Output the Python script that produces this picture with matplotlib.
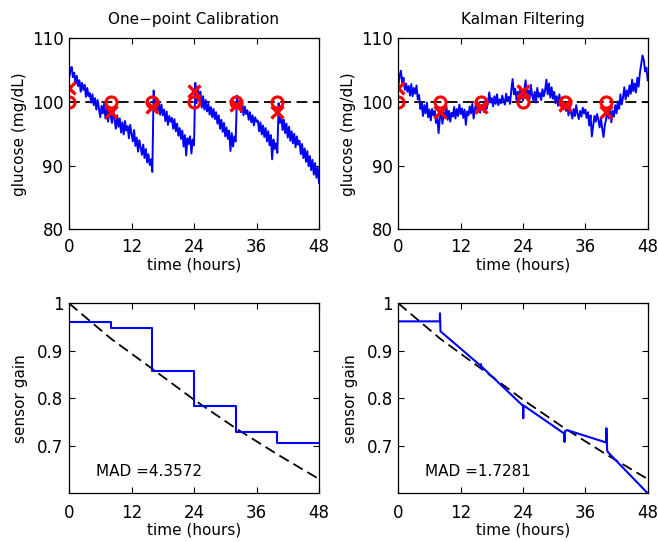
import numpy as np
import matplotlib
matplotlib.use("Agg")
import matplotlib.pyplot as plt

# ---------------- data ----------------
time_step_hours = 0.25
glucose_onepoint = [
    103.6, 104.8, 105.5, 103.9, 104.6, 102.8, 104.1, 102.5, 103.4, 101.6, 103.0, 101.9, 102.7, 100.8, 102.2, 100.9, 101.4,
    99.9, 101.2, 99.5, 100.6, 98.8, 100.3, 99.0, 97.6, 99.4, 98.2, 99.8, 97.4, 98.9, 96.9, 98.6, 97.8,
    96.7, 98.9, 97.2, 95.8, 97.9, 96.1, 97.4, 95.2, 96.8, 94.9, 97.0, 95.5, 96.2, 94.3, 96.4, 95.0,
    93.8, 95.6, 93.1, 94.4, 92.2, 94.0, 92.8, 91.7, 93.3, 91.2, 92.6, 90.5, 91.8, 90.1, 91.0, 89.0,
    101.8, 99.2, 100.6, 98.7, 100.1, 98.0, 99.6, 97.9, 98.8, 97.0, 98.5, 96.4, 97.8, 96.9, 97.5, 95.8,
    97.3, 95.4, 96.6, 94.7, 95.9, 94.2, 95.5, 93.0, 94.8, 91.6, 94.3, 93.4, 94.6, 91.9, 94.1, 93.2,
    103.0, 99.8, 102.4, 100.2, 101.6, 99.1, 100.9, 98.8, 100.3, 98.5, 99.7, 98.0, 99.2, 97.6, 98.9, 97.3,
    98.4, 96.6, 97.9, 95.8, 97.2, 95.3, 96.7, 94.6, 96.0, 94.2, 95.5, 92.3, 95.1, 93.0, 94.6, 93.8,
    101.0, 99.0, 100.2, 98.4, 99.8, 97.9, 99.3, 98.1, 98.7, 97.2, 98.4, 96.8, 97.9, 96.3, 97.6, 96.9,
    97.1, 95.4, 96.8, 94.9, 96.3, 94.5, 95.9, 93.8, 95.4, 93.2, 94.8, 91.0, 94.1, 92.6, 93.5, 92.0,
    99.8, 96.7, 97.9, 95.6, 97.2, 95.1, 96.6, 94.4, 96.1, 93.9, 95.4, 93.5, 95.0, 92.9, 94.6, 93.3,
    93.9, 91.8, 93.4, 91.2, 92.7, 90.6, 92.3, 89.9, 91.5, 89.3, 90.9, 88.6, 90.4, 88.1, 89.7, 87.3,
]
glucose_kalman = [
    102.4, 104.1, 104.9, 103.0, 103.8, 101.9, 102.9, 101.6, 102.5, 101.0, 102.8, 100.9, 102.2, 101.3, 102.6, 100.4, 101.1,
    98.9, 99.8, 97.8, 99.5, 98.2, 99.9, 97.6, 98.8, 97.1, 98.9, 97.9, 98.6, 96.7, 97.8, 95.1, 97.4,
    98.7, 96.6, 98.4, 97.5, 99.4, 97.2, 98.6, 96.9, 98.3, 97.7, 99.2, 97.4, 98.9, 97.8, 99.6, 98.1,
    99.0, 97.5, 98.8, 96.4, 98.5, 97.9, 99.3, 98.2, 99.7, 97.4, 98.9, 99.8, 98.6, 99.9, 98.3, 99.4,
    99.6, 98.4, 100.2, 98.9, 99.8, 101.5, 99.9, 100.6, 99.3, 100.9, 99.7, 101.2, 99.5, 100.4, 99.8, 101.0,
    100.2, 99.6, 101.3, 100.1, 100.8, 99.7, 101.9, 103.6, 101.2, 102.1, 100.3, 101.6, 100.0, 102.4, 100.8, 100.2,
    101.9, 103.4, 100.9, 101.8, 100.4, 102.7, 101.1, 100.2, 101.6, 99.9, 102.2, 100.8, 101.4, 100.3, 102.0, 100.9,
    101.8, 103.5, 101.2, 102.9, 100.7, 102.3, 100.5, 101.6, 99.8, 100.9, 99.4, 101.2, 99.6, 100.3, 98.9, 99.7,
    98.6, 99.8, 97.9, 99.2, 98.3, 97.4, 98.9, 97.8, 99.5, 98.1, 97.3, 98.6, 97.7, 99.1, 98.2, 98.8,
    97.5, 98.4, 96.3, 97.9, 94.6, 96.2, 97.8, 96.9, 98.1, 97.2, 96.0, 97.5, 95.8, 94.5, 96.4, 97.3,
    98.9, 97.4, 99.1, 96.8, 98.6, 97.7, 99.5, 98.2, 100.1, 98.9, 101.2, 99.6, 100.7, 102.3, 100.4, 101.8,
    100.9, 102.6, 101.3, 103.5, 101.7, 102.9, 101.5, 103.8, 102.4, 104.6, 105.9, 107.3, 106.6, 104.8, 105.4, 103.4,
]
reference_glucose = 100
calib_times = [0, 8, 16, 24, 32, 40]
calib_reference = [100, 100, 100, 100, 100, 100]
calib_sensor = [102.2, 98.5, 99.2, 101.8, 99.5, 98.5]

# true sensor gain (dashed)
true_gain_t = [0, 8, 16, 24, 32, 40, 48]
true_gain = [1.0, 0.926, 0.862, 0.797, 0.737, 0.682, 0.630]

# one-point calibration gain estimates (held between calibrations)
onepoint_gain_t = [0, 8, 16, 24, 32, 40, 48]
onepoint_gain = [0.961, 0.947, 0.857, 0.784, 0.730, 0.706, 0.706]

# Kalman gain estimate
kalman_gain_t = [0, 8.0, 8.02, 8.12, 15.8, 15.9, 16.0, 16.1, 24.0, 24.05, 24.1,
                 31.9, 32.0, 32.1, 32.5, 40.0, 40.05, 40.2, 40.4, 48.0]
kalman_gain = [0.962, 0.962, 0.979, 0.941, 0.869, 0.872, 0.862, 0.866, 0.784, 0.758, 0.785,
               0.726, 0.708, 0.731, 0.733, 0.707, 0.737, 0.690, 0.686, 0.600]

mad_values = ["4.3572", "1.7281"]
titles = ["One\u2212point Calibration", "Kalman Filtering"]

# ---------------- plotting ----------------
plt.rcParams['font.family'] = ['DejaVu Sans']
W, H = 658, 542
fig = plt.figure(figsize=(W / 100, H / 100), dpi=100)

def px_axes(l, r, t, b):
    return fig.add_axes([l / W, 1 - b / H, (r - l) / W, (b - t) / H])

ax_tl = px_axes(69, 319, 38.3, 229.3)
ax_tr = px_axes(398.3, 647.7, 38.3, 229.3)
ax_bl = px_axes(69, 319, 303.3, 493.3)
ax_br = px_axes(398.3, 647.7, 303.3, 493.3)

t = np.arange(len(glucose_onepoint)) * time_step_hours

def style(ax, xpad):
    ax.tick_params(direction='in', length=4, width=0.8, top=True, right=True,
                   labelsize=12)
    ax.tick_params(axis='x', pad=xpad)
    ax.tick_params(axis='y', pad=4)
    for s in ax.spines.values():
        s.set_linewidth(0.9)
    ax.set_xlim(0, 48)
    ax.set_xticks([0, 12, 24, 36, 48])

for ax, g, title in [(ax_tl, glucose_onepoint, titles[0]), (ax_tr, glucose_kalman, titles[1])]:
    ax.plot([0, 48], [reference_glucose, reference_glucose], color='k', lw=1.3,
            dashes=(6, 3))
    ax.plot(t, g, color=(0, 0, 1), lw=1.4)
    ax.plot(calib_times, calib_reference, 'o', mfc='none', mec=(1, 0, 0), ms=8, mew=2.2)
    ax.plot(calib_times, calib_sensor, 'x', color=(1, 0, 0), ms=9, mew=2.4)
    ax.set_ylim(80, 110)
    ax.set_yticks([80, 90, 100, 110])
    style(ax, 6)
    ax.set_title(title, fontsize=11, pad=10)
    ax.set_ylabel('glucose (mg/dL)', fontsize=11)
    ax.set_xlabel('time (hours)', fontsize=11)
    ax.yaxis.set_label_coords(-0.169, 0.5)
    ax.xaxis.set_label_coords(0.5, -0.15)

for ax, (gt, gv), mad, stepped in [(ax_bl, (onepoint_gain_t, onepoint_gain), mad_values[0], True),
                                   (ax_br, (kalman_gain_t, kalman_gain), mad_values[1], False)]:
    ax.plot(true_gain_t, true_gain, color='k', lw=1.3, dashes=(6, 3))
    if stepped:
        ax.step(gt, gv, where='post', color=(0, 0, 1), lw=1.5)
    else:
        ax.plot(gt, gv, color=(0, 0, 1), lw=1.5)
    ax.set_ylim(0.6, 1.0)
    ax.set_yticks([0.7, 0.8, 0.9, 1.0])
    ax.set_yticklabels(['0.7', '0.8', '0.9', '1'])
    style(ax, 7.5)
    ax.set_ylabel('sensor gain', fontsize=11)
    ax.set_xlabel('time (hours)', fontsize=11)
    ax.yaxis.set_label_coords(-0.162, 0.5)
    ax.xaxis.set_label_coords(0.5, -0.152)
    ax.text(5.1, 0.6455, 'MAD =' + mad, fontsize=11, ha='left', va='center')

fig.savefig('out.png', dpi=100)
